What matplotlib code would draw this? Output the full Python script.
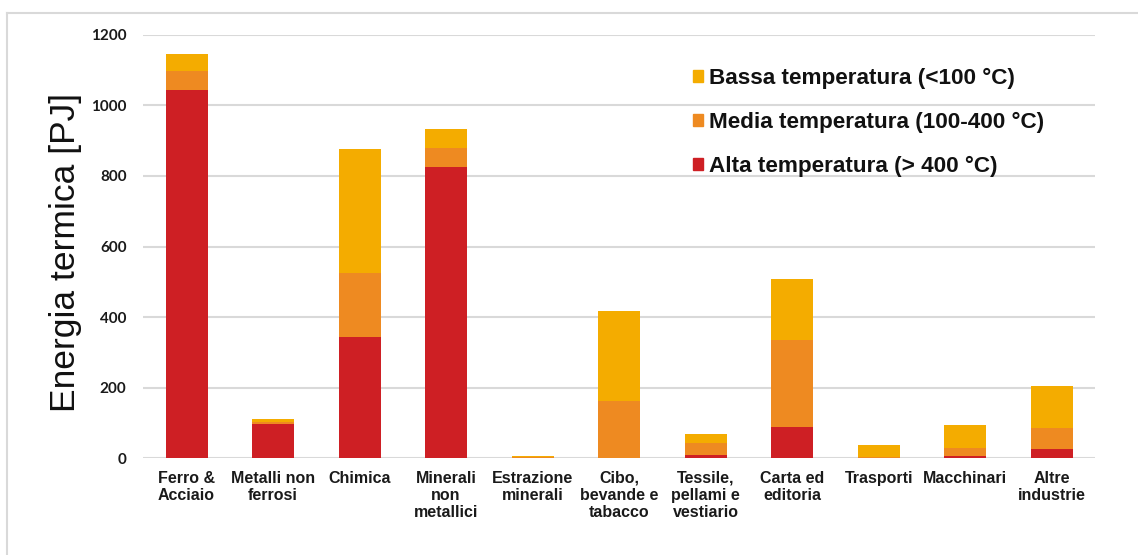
import matplotlib
matplotlib.use("Agg")
import matplotlib.pyplot as plt
from matplotlib.patches import Patch
from matplotlib.lines import Line2D
import numpy as np

# dati (PJ)
categorie = ["Ferro &\nAcciaio", "Metalli non\nferrosi", "Chimica", "Minerali\nnon\nmetallici",
             "Estrazione\nminerali", "Cibo,\nbevande e\ntabacco", "Tessile,\npellami e\nvestiario",
             "Carta ed\neditoria", "Trasporti", "Macchinari", "Altre\nindustrie"]
alta = [1044, 96, 345, 826, 0, 0, 10, 89, 0, 7, 26]
media = [53, 7, 181, 53, 3, 162, 34, 245, 4, 21, 59]
bassa = [49, 8, 349, 54, 4, 255, 26, 175, 34, 67, 120]

etichette = ["Bassa temperatura (<100 °C)", "Media temperatura (100-400 °C)", "Alta temperatura (> 400 °C)"]
c_alta = "#CE1F24"
c_media = "#EE8A21"
c_bassa = "#F4AC00"
grigio = "#D9D9D9"

fig = plt.figure(figsize=(11.38, 5.55), dpi=100)
ax = fig.add_axes([0.1259, 0.1742, 0.8363, 0.7633])

x = np.arange(len(categorie))
w = 0.485
b1 = np.array(alta)
b2 = b1 + np.array(media)
ax.bar(x, alta, w, color=c_alta, zorder=2)
ax.bar(x, media, w, bottom=b1, color=c_media, zorder=2)
ax.bar(x, bassa, w, bottom=b2, color=c_bassa, zorder=2)

ax.set_xlim(-0.5, len(categorie) - 0.5)
ax.set_ylim(0, 1200)
ax.set_yticks(range(0, 1201, 200))
ax.yaxis.grid(True, color=grigio, linewidth=1.5, zorder=0)
ax.set_axisbelow(True)
for s in ax.spines.values():
    s.set_visible(False)

ax.set_xticks(x)
ax.set_xticklabels(categorie, fontsize=11.5, fontweight="bold", family="Liberation Sans",
                   linespacing=1.17, color="#1a1a1a")
ax.tick_params(axis="x", length=0, pad=9)
ax.tick_params(axis="y", length=0, pad=12)
for t in ax.get_yticklabels():
    t.set_family("Lato")
    t.set_fontweight("bold")
    t.set_fontsize(11)
    t.set_color("#1a1a1a")

ax.set_ylabel("Energia termica [PJ]", fontsize=25.5, family="Liberation Sans", color="#111111")
ax.yaxis.set_label_coords(-0.064, 0.485)

handles = [Patch(color=c_bassa), Patch(color=c_media), Patch(color=c_alta)]
leg = ax.legend(handles, etichette, loc="upper left", bbox_to_anchor=(0.5776, 0.922),
                frameon=False, borderpad=0, borderaxespad=0,
                handlelength=0.45, handleheight=0.45, handletextpad=0.27,
                labelspacing=1.03, prop={"family": "Liberation Sans", "weight": "bold", "size": 16.2})
for t in leg.get_texts():
    t.set_color("#111111")

# cornice
fig.add_artist(Line2D([6.7 / 1138, 1], [1 - 12.7 / 555] * 2, color=grigio, linewidth=1.5))
fig.add_artist(Line2D([6.7 / 1138] * 2, [0, 1 - 12.7 / 555], color=grigio, linewidth=1.5))

fig.savefig("out.png", dpi=100)
